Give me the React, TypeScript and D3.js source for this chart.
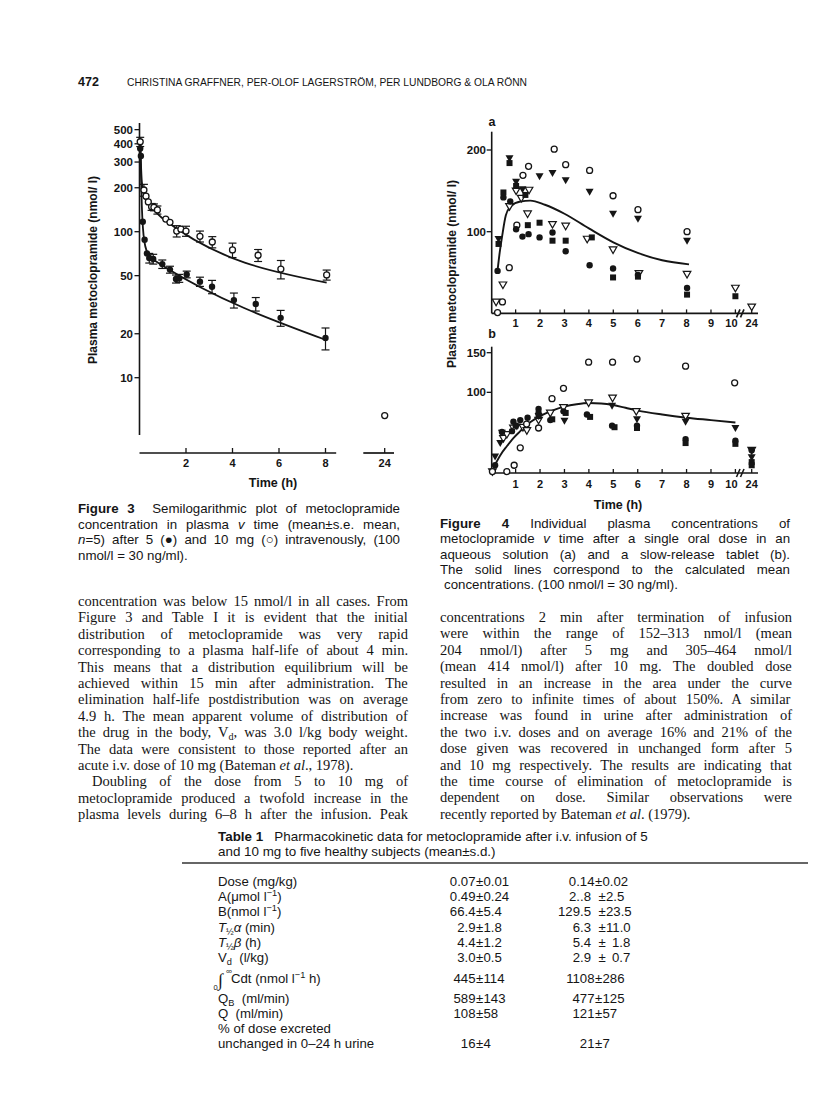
import React from 'react';
import * as d3 from 'd3';

const SANS = "'Liberation Sans', Arial, Helvetica, sans-serif";
const SERIF = "'Liberation Serif', 'Times New Roman', Times, serif";
const INK = '#151515';

// ---------------- Figure 3 data (semilog, mean ± s.e.) ----------------
const fig3YTicks = [500, 400, 300, 200, 100, 50, 20, 10];
const fig3XTicks = [2, 4, 6, 8, 24];
const fig3FilledTime = [0.03, 0.06, 0.14, 0.22, 0.32, 0.42, 0.59, 0.98, 1.31, 1.57, 1.71, 2.03, 2.6, 3.12, 4.06, 5.0, 6.07, 8.0];
const fig3FilledMean = [372, 330, 117, 88, 71, 66, 65, 60, 55, 47.5, 48, 51, 45.5, 42, 34, 32, 25.7, 18.7];
const fig3FilledSE = [0, 0, 0, 0, 0, 5, 5, 4, 3, 3, 3, 2.7, 3.3, 4.4, 4, 3.4, 3.2, 3.2];
const fig3OpenTime = [0.03, 0.19, 0.28, 0.38, 0.52, 0.62, 0.77, 1.13, 1.31, 1.6, 1.78, 2.0, 2.6, 3.13, 4.0, 5.1, 6.08, 8.05, 24];
const fig3OpenMean = [413, 193, 175, 160, 148, 147, 141, 122, 116, 101, 104, 101, 93, 85, 75, 69, 55.5, 50.6, 5.5];
const fig3OpenSE = [30, 18, 0, 0, 8, 8, 9, 0, 0, 9, 0, 8, 8, 7.5, 8.5, 6.5, 8, 4, 0];
const fig3FitFilled: [number, number][] = [[0.03, 430], [0.06, 260], [0.1, 150], [0.15, 105], [0.22, 84], [0.32, 73], [0.5, 66], [0.75, 62], [1.0, 58.5], [8.0, 18.2]];
const fig3FitOpen: [number, number][] = [[0.03, 430], [0.06, 300], [0.1, 220], [0.2, 178], [0.35, 157], [0.6, 142], [1.0, 123], [8.05, 44.8]];

// ---------------- Figure 4 data (individual concentrations) ----------------
const fig4XTicks = [1, 2, 3, 4, 5, 6, 7, 8, 9, 10, 24];
const fig4aYTicks = [100, 200];
const fig4bYTicks = [100, 150];
// panel a: aqueous solution
const fig4aOpenCircle: [number, number][] = [[0.26, 1], [0.46, 14], [0.74, 56], [1.05, 108], [1.3, 169], [1.53, 180], [2.58, 201], [3.05, 182], [4.03, 175], [4.99, 144], [6.01, 127], [8.02, 100]];
const fig4aFilledCircle: [number, number][] = [[0.26, 52], [0.5, 142], [0.78, 137], [1.02, 103], [1.28, 94], [1.53, 97], [1.98, 93], [2.51, 99], [3.05, 76], [4.03, 59], [4.99, 55], [6.01, 47], [8.02, 31]];
const fig4aFilledSquare: [number, number][] = [[0.3, 85], [0.5, 148], [0.75, 184], [1.02, 156], [1.4, 145], [1.5, 108], [1.98, 111], [2.51, 89], [3.05, 89], [4.12, 93], [4.99, 44], [6.01, 45], [8.02, 23], [10, 21]];
const fig4aFilledTriangle: [number, number][] = [[0.3, 91], [0.75, 190], [1.02, 161], [1.28, 152], [1.98, 168], [2.51, 172], [3.05, 163], [4.03, 149], [4.99, 122], [6.01, 116], [8.02, 89]];
const fig4aOpenTriangle: [number, number][] = [[0.2, 14], [0.48, 35], [0.75, 131], [1.02, 150], [1.23, 141], [1.49, 122], [1.55, 151], [2.51, 109], [3.05, 107], [3.93, 91], [4.99, 78], [6.05, 49], [8.02, 48], [10, 31], [24, 8]];
const fig4aFit: [number, number][] = [[0.25, 50], [0.35, 75], [0.45, 95], [0.6, 120], [0.8, 131], [1.2, 137], [1.6, 138], [2.2, 133], [3, 122], [4, 104], [5, 87], [6, 74], [7, 65], [8.1, 60]];
// panel b: slow-release tablet
const fig4bOpenCircle: [number, number][] = [[0.05, 0], [0.64, 0], [0.94, 8], [1.19, 30], [1.45, 60], [1.94, 55], [2.49, 92], [2.96, 105], [3.99, 138], [4.97, 138], [5.97, 142], [7.96, 133], [9.97, 112]];
const fig4bFilledCircle: [number, number][] = [[0.16, 8], [0.44, 50], [0.85, 51], [0.91, 63], [1.19, 65], [1.49, 68], [1.94, 79], [1.94, 74], [2.42, 65], [2.96, 76], [3.92, 72], [4.95, 58], [5.97, 58], [7.96, 41], [10, 39], [24, 27]];
const fig4bFilledSquare: [number, number][] = [[1.0, 58], [1.94, 70], [2.5, 66], [3.05, 74], [4.05, 69], [5.05, 56], [5.97, 55], [7.96, 36], [10, 35], [24, 12], [24, 8]];
const fig4bFilledTriangle: [number, number][] = [[0.16, 19], [0.37, 36], [0.44, 49], [1.05, 57], [1.94, 70], [3.0, 64], [4.95, 83], [5.97, 66], [7.96, 63], [10, 55], [24, 18]];
const fig4bOpenTriangle: [number, number][] = [[0.05, 0], [0.5, 42], [0.64, 47], [0.91, 55], [1.3, 56], [1.46, 52], [1.94, 65], [2.42, 74], [2.96, 81], [3.99, 87], [4.97, 93], [5.94, 76], [7.96, 70], [24, 27]];
const fig4bFit: [number, number][] = [[0.16, 9], [0.4, 22], [0.64, 32], [0.9, 42], [1.19, 51], [1.5, 60], [2.0, 70], [2.5, 77], [3.0, 82], [3.5, 85], [4.0, 86.5], [4.5, 86], [5.0, 84], [5.5, 80.5], [6.0, 77], [7.0, 72], [8.0, 68], [9, 65], [10, 62]];

// ---------------- Table 1 ----------------
const tableLabels = ['Dose (mg/kg)', 'A(μmol l^−1^)', 'B(nmol l^−1^)', '*T*~½~*α* (min)', '*T*~½~*β* (h)', 'V~d~  (l/kg)', '', 'Q~B~  (ml/min)', 'Q  (ml/min)', '% of dose excreted', 'unchanged in 0–24 h urine'];
const tableCol1Mean = ['0.07', '0.49', '66.4', '2.9', '4.4', '3.0', '445', '589', '108', '', '16'];
const tableCol1SD = ['0.01', '0.24', '5.4', '1.8', '1.2', '0.5', '114', '143', '58', '', '4'];
const tableCol2Mean = ['0.14', '2..8', '129.5', '6.3', '5.4', '2.9', '1108', '477', '121', '', '21'];
const tableCol2SD = ['0.02', '2.5', '23.5', '11.0', '1.8', '0.7', '286', '125', '57', '', '7'];
const tableCol2GapL = [0, 1, 1, 1, 1, 1, 0, 0, 0, 0, 0];
const tableCol2GapR = [0, 0, 0, 0, 1, 1, 0, 0, 0, 0, 0];

// ---------------- Text ----------------
const leftColumn = [
  'concentration was below 15 nmol/l in all cases. From',
  'Figure 3 and Table I it is evident that the initial',
  'distribution of metoclopramide was very rapid',
  'corresponding to a plasma half-life of about 4 min.',
  'This means that a distribution equilibrium will be',
  'achieved within 15 min after administration. The',
  'elimination half-life postdistribution was on average',
  '4.9 h. The mean apparent volume of distribution of',
  'the drug in the body, V~d~, was 3.0 l/kg body weight.',
  'The data were consistent to those reported after an',
  'acute i.v. dose of 10 mg (Bateman *et al*., 1978).',
  'Doubling of the dose from 5 to 10 mg of',
  'metoclopramide produced a twofold increase in the',
  'plasma levels during 6–8 h after the infusion. Peak',
];
const rightColumn = [
  'concentrations 2 min after termination of infusion',
  'were within the range of 152–313 nmol/l (mean',
  '204 nmol/l) after 5 mg and 305–464 nmol/l',
  '(mean 414 nmol/l) after 10 mg. The doubled dose',
  'resulted in an increase in the area under the curve',
  'from zero to infinite times of about 150%. A similar',
  'increase was found in urine after administration of',
  'the two i.v. doses and on average 16% and 21% of the',
  'dose given was recovered in unchanged form after 5',
  'and 10 mg respectively. The results are indicating that',
  'the time course of elimination of metoclopramide is',
  'dependent on dose. Similar observations were',
  'recently reported by Bateman *et al*. (1979).',
];
const fig3Caption = [
  '#Figure 3#  Semilogarithmic plot of metoclopramide',
  'concentration in plasma *v* time (mean±s.e. mean,',
  '*n*=5) after 5 (●) and 10 mg (○) intravenously, (100',
  'nmol/l = 30 ng/ml).',
];
const fig4Caption = [
  '#Figure 4# Individual plasma concentrations of',
  'metoclopramide *v* time after a single oral dose in an',
  'aqueous solution (a) and a slow-release tablet (b).',
  'The solid lines correspond to the calculated mean',
  'concentrations. (100 nmol/l = 30 ng/ml).',
];
const tableCaption = [
  '#Table 1#   Pharmacokinetic data for metoclopramide after i.v. infusion of 5',
  'and 10 mg to five healthy subjects (mean±s.d.)',
];

const RICH_SPLIT = /(\*[^*]+\*|~[^~]+~|\^[^^]+\^|#[^#]+#)/;
let measureCtx: CanvasRenderingContext2D | null = null;
function measureRich(s: string, size: number, family: string, weight: string) {
  if (!measureCtx) measureCtx = document.createElement('canvas').getContext('2d');
  const ctx = measureCtx as CanvasRenderingContext2D;
  let w = 0;
  s.split(RICH_SPLIT).filter((p) => p !== '').forEach((p) => {
    let style = 'normal', wt = weight, sz = size, c = p;
    if (p.startsWith('*')) { style = 'italic'; c = p.slice(1, -1); }
    else if (p.startsWith('#')) { wt = 'bold'; c = p.slice(1, -1); }
    else if (p.startsWith('~') || p.startsWith('^')) { sz = size * 0.7; c = p.slice(1, -1); }
    ctx.font = `${style} ${wt} ${sz}px ${family}`;
    w += ctx.measureText(c).width;
  });
  return w;
}

function Rich(props: { s: string; x: number; y: number; size: number; family: string; width?: number; weight?: string; anchor?: string }) {
  const { s, x, y, size, family, width, weight, anchor } = props;
  const parts = s.split(RICH_SPLIT).filter((p) => p !== '');
  let cur = 0;
  const kids = parts.map((p, i) => {
    let target = 0;
    let content = p;
    const attrs: any = {};
    if (p.startsWith('*')) { content = p.slice(1, -1); attrs.fontStyle = 'italic'; }
    else if (p.startsWith('#')) { content = p.slice(1, -1); attrs.fontWeight = 'bold'; }
    else if (p.startsWith('~')) { content = p.slice(1, -1); target = size * 0.22; attrs.fontSize = size * 0.7; }
    else if (p.startsWith('^')) { content = p.slice(1, -1); target = -size * 0.38; attrs.fontSize = size * 0.7; }
    const dy = target - cur;
    cur = target;
    return <tspan key={i} dy={dy} {...attrs}>{content}</tspan>;
  });
  let wordSpacing = 0;
  if (width) {
    const plain = parts.map((p) => (/^[*~^#]/.test(p) ? p.slice(1, -1) : p)).join('');
    const spaces = (plain.match(/ /g) || []).length;
    const nat = measureRich(s, size, family, weight || 'normal');
    if (spaces > 0) wordSpacing = (width - nat) / spaces;
  }
  return (
    <text x={x} y={y} fontSize={size} fontFamily={family} fill={INK} fontWeight={weight || 'normal'}
      textAnchor={anchor || 'start'} style={{ whiteSpace: 'pre', wordSpacing: wordSpacing + 'px' }}>
      {kids}
    </text>
  );
}

function Mark(props: { kind: string; x: number; y: number }) {
  const { kind, x, y } = props;
  if (kind === 'oc') return <circle cx={x} cy={y} r={3} fill="#fff" stroke={INK} strokeWidth={1.3} />;
  if (kind === 'fc') return <circle cx={x} cy={y} r={3.2} fill={INK} />;
  if (kind === 'fs') return <rect x={x - 3} y={y - 3} width={6} height={6} fill={INK} />;
  if (kind === 'ft') return <path d={`M${x - 4},${y - 3}L${x + 4},${y - 3}L${x},${y + 4}Z`} fill={INK} />;
  return <path d={`M${x - 3.8},${y - 2.8}L${x + 3.8},${y - 2.8}L${x},${y + 3.8}Z`} fill="#fff" stroke={INK} strokeWidth={1.2} />;
}

function Figure3() {
  const y = d3.scaleLog().domain([10, 100]).range([377.7, 231.7]);
  const xMain = d3.scaleLinear().domain([0, 8]).range([139.5, 325.5]);
  const xLate = d3.scaleLinear().domain([23, 25]).range([374.7, 394.7]);
  const x = (t: number) => (t > 12 ? xLate(t) : xMain(t));
  const line = d3.line<[number, number]>().x((d) => x(d[0])).y((d) => y(d[1])).curve(d3.curveMonotoneX);
  const lab = { fontFamily: SANS, fontWeight: 'bold', fill: INK } as any;
  const errs = (ts: number[], ms: number[], ss: number[]) =>
    ts.map((t, i) => {
      if (!ss[i]) return null;
      const cx = x(t), y1 = y(ms[i] + ss[i]), y2 = y(ms[i] - ss[i]);
      return (
        <g key={i} stroke={INK} strokeWidth={1.2}>
          <line x1={cx} x2={cx} y1={y1} y2={y2} />
          <line x1={cx - 4} x2={cx + 4} y1={y1} y2={y1} />
          <line x1={cx - 4} x2={cx + 4} y1={y2} y2={y2} />
        </g>
      );
    });
  return (
    <g>
      <line x1={139.5} x2={139.5} y1={123} y2={435} stroke={INK} strokeWidth={1.6} />
      {fig3YTicks.map((v) => (
        <g key={v}>
          <line x1={134.5} x2={139.5} y1={y(v)} y2={y(v)} stroke={INK} strokeWidth={1.3} />
          <text x={133} y={y(v) + 4} fontSize={11.5} textAnchor="end" {...lab}>{v}</text>
        </g>
      ))}
      <line x1={xMain(0)} x2={xMain(8.46)} y1={453} y2={453} stroke={INK} strokeWidth={1.7} />
      <line x1={xLate(21.86)} x2={xLate(24.93)} y1={453} y2={453} stroke={INK} strokeWidth={1.7} />
      {fig3XTicks.map((t) => (
        <g key={t}>
          <line x1={x(t)} x2={x(t)} y1={448} y2={453} stroke={INK} strokeWidth={1.3} />
          <text x={x(t)} y={467} fontSize={11} textAnchor="middle" {...lab}>{t}</text>
        </g>
      ))}
      <text x={273} y={487} fontSize={12.5} textAnchor="middle" {...lab}>Time (h)</text>
      <text transform="translate(97,270) rotate(-90)" fontSize={12} textAnchor="middle" {...lab}>Plasma metoclopramide (nmol/ l)</text>
      <path d={line(fig3FitOpen) || ''} fill="none" stroke={INK} strokeWidth={1.8} />
      <path d={line(fig3FitFilled) || ''} fill="none" stroke={INK} strokeWidth={1.8} />
      {errs(fig3OpenTime, fig3OpenMean, fig3OpenSE)}
      {errs(fig3FilledTime, fig3FilledMean, fig3FilledSE)}
      {fig3OpenTime.map((t, i) => <Mark key={'o' + i} kind="oc" x={x(t)} y={y(fig3OpenMean[i])} />)}
      {fig3FilledTime.map((t, i) => <Mark key={'f' + i} kind="fc" x={x(t)} y={y(fig3FilledMean[i])} />)}
    </g>
  );
}

function Panel4(props: { top: number; base: number; yScale: any; ticks: number[]; fit: [number, number][]; series: [string, [number, number][]][]; letter: string; letterY: number; labelY: number }) {
  const { top, base, yScale, ticks, fit, series, letter, letterY, labelY } = props;
  const xMain = d3.scaleLinear().domain([0, 10]).range([491.2, 735.4]);
  const xLate = d3.scaleLinear().domain([23, 25]).range([746.7, 756.7]);
  const x = (t: number) => (t > 12 ? xLate(t) : xMain(t));
  const line = d3.line<[number, number]>().x((d) => x(d[0])).y((d) => yScale(d[1])).curve(d3.curveMonotoneX);
  const lab = { fontFamily: SANS, fontWeight: 'bold', fill: INK } as any;
  return (
    <g>
      <text x={492} y={letterY} fontSize={12.5} textAnchor="middle" {...lab}>{letter}</text>
      <line x1={491.7} x2={491.7} y1={top} y2={base} stroke={INK} strokeWidth={1.6} />
      <line x1={491.7} x2={758} y1={base} y2={base} stroke={INK} strokeWidth={1.7} />
      <g stroke={INK} strokeWidth={1.6}>
        <line x1={736.5} x2={740} y1={base + 4} y2={base - 4} />
        <line x1={740.5} x2={744} y1={base + 4} y2={base - 4} />
      </g>
      {ticks.map((v) => (
        <g key={v}>
          <line x1={486.7} x2={491.7} y1={yScale(v)} y2={yScale(v)} stroke={INK} strokeWidth={1.3} />
          <text x={486} y={yScale(v) + 4} fontSize={11.5} textAnchor="end" {...lab}>{v}</text>
        </g>
      ))}
      {fig4XTicks.map((t) => (
        <g key={t}>
          <line x1={x(t)} x2={x(t)} y1={base - 4} y2={base} stroke={INK} strokeWidth={1.3} />
          <text x={x(t) + (t === 10 ? -4 : 0)} y={labelY} fontSize={11} textAnchor="middle" {...lab}>{t}</text>
        </g>
      ))}
      <path d={line(fit) || ''} fill="none" stroke={INK} strokeWidth={1.9} />
      {series.map(([kind, pts]) => pts.map((p, i) => <Mark key={kind + i} kind={kind} x={x(p[0])} y={yScale(p[1])} />))}
    </g>
  );
}

function Figure4() {
  const ya = d3.scaleLinear().domain([0, 200]).range([313.4, 150]);
  const yb = d3.scaleLinear().domain([0, 150]).range([471.6, 352.7]);
  const lab = { fontFamily: SANS, fontWeight: 'bold', fill: INK } as any;
  return (
    <g>
      <Panel4 top={131.7} base={313.4} yScale={ya} ticks={fig4aYTicks} fit={fig4aFit} letter="a" letterY={126} labelY={327}
        series={[['ot', fig4aOpenTriangle], ['oc', fig4aOpenCircle], ['fc', fig4aFilledCircle], ['fs', fig4aFilledSquare], ['ft', fig4aFilledTriangle]]} />
      <Panel4 top={346.7} base={473} yScale={yb} ticks={fig4bYTicks} fit={fig4bFit} letter="b" letterY={338} labelY={488}
        series={[['ot', fig4bOpenTriangle], ['oc', fig4bOpenCircle], ['fc', fig4bFilledCircle], ['fs', fig4bFilledSquare], ['ft', fig4bFilledTriangle]]} />
      <text transform="translate(456,274) rotate(-90)" fontSize={12} textAnchor="middle" {...lab}>Plasma metoclopramide (nmol/ l)</text>
      <text x={618} y={509} fontSize={12.5} textAnchor="middle" {...lab}>Time (h)</text>
    </g>
  );
}

function Table1() {
  const rowsY = [886, 901, 916, 932, 947, 962, 983, 1003, 1018, 1033, 1048];
  const fs = 13.2;
  const pm1 = 479.5, pm2 = 598.5;
  const t = { fontFamily: SANS, fontSize: fs, fill: INK } as any;
  return (
    <g>
      {tableCaption.map((s, i) => <Rich key={i} s={s} x={218} y={841 + i * 15} size={13.4} family={SANS} />)}
      <line x1={182} x2={808} y1={863} y2={863} stroke="#333" strokeWidth={1.3} />
      {tableLabels.map((s, i) => (i === 6 ? (
        <g key={i}>
          <text x={218} y={rowsY[i] + 3} fontSize={18} fontFamily={SERIF} fill={INK}>∫</text>
          <text x={213.5} y={rowsY[i] + 6.5} fontSize={7.5} fontFamily={SANS} fill={INK}>0</text>
          <text x={226} y={rowsY[i] - 9.5} fontSize={8.5} fontFamily={SANS} fill={INK}>∞</text>
          <Rich s={'Cdt (nmol l^−1^ h)'} x={231} y={rowsY[i]} size={fs} family={SANS} />
        </g>
      ) : <Rich key={i} s={s} x={218} y={rowsY[i]} size={fs} family={SANS} />))}
      {tableCol1Mean.map((m, i) => m === '' ? null : (
        <g key={'c1' + i}>
          <text x={pm1 - 4} y={rowsY[i]} textAnchor="end" {...t}>{m}</text>
          <text x={pm1} y={rowsY[i]} textAnchor="middle" {...t}>±</text>
          <text x={pm1 + 4} y={rowsY[i]} {...t}>{tableCol1SD[i]}</text>
        </g>
      ))}
      {tableCol2Mean.map((m, i) => {
        if (m === '') return null;
        const px = pm2 + tableCol2GapL[i] * 3.5;
        return (
          <g key={'c2' + i}>
            <text x={px - 4 - tableCol2GapL[i] * 7} y={rowsY[i]} textAnchor="end" {...t}>{m}</text>
            <text x={px} y={rowsY[i]} textAnchor="middle" {...t}>±</text>
            <text x={px + 4 + tableCol2GapR[i] * 6} y={rowsY[i]} {...t}>{tableCol2SD[i]}</text>
          </g>
        );
      })}
    </g>
  );
}

export default function App() {
  const lineH = 16.4;
  return (
    <svg width={816} height={1117} viewBox="0 0 816 1117" style={{ position: 'absolute', left: 0, top: 0, background: '#fff' }}>
      <rect x={0} y={0} width={816} height={1117} fill="#fff" />
      <text x={78} y={86} fontFamily={SANS} fontWeight="bold" fontSize={12.5} fill={INK}>472</text>
      <text x={127} y={86} fontFamily={SANS} fontSize={11} fill={INK} textLength={400} lengthAdjust="spacingAndGlyphs">CHRISTINA GRAFFNER, PER-OLOF LAGERSTRÖM, PER LUNDBORG &amp; OLA RÖNN</text>

      <Figure3 />
      <Figure4 />

      {fig3Caption.map((s, i) => (
        <Rich key={i} s={s} x={78} y={513 + i * 15.5} size={13.3} family={SANS} width={i < 3 ? 322 : undefined} />
      ))}
      {fig4Caption.map((s, i) => (
        <Rich key={i} s={s} x={i === 4 ? 444 : 440} y={528 + i * 15.3} size={13.3} family={SANS} width={i < 4 ? 350 : undefined} />
      ))}

      {leftColumn.map((s, i) => (
        <Rich key={i} s={s} x={i === 11 ? 92 : 78} y={606 + i * lineH} size={14.5} family={SERIF}
          width={i === 10 ? undefined : i === 11 ? 316 : 330} />
      ))}
      {rightColumn.map((s, i) => (
        <Rich key={i} s={s} x={440} y={622 + i * lineH} size={14.5} family={SERIF}
          width={i === 12 ? undefined : 352} />
      ))}

      <Table1 />
    </svg>
  );
}
